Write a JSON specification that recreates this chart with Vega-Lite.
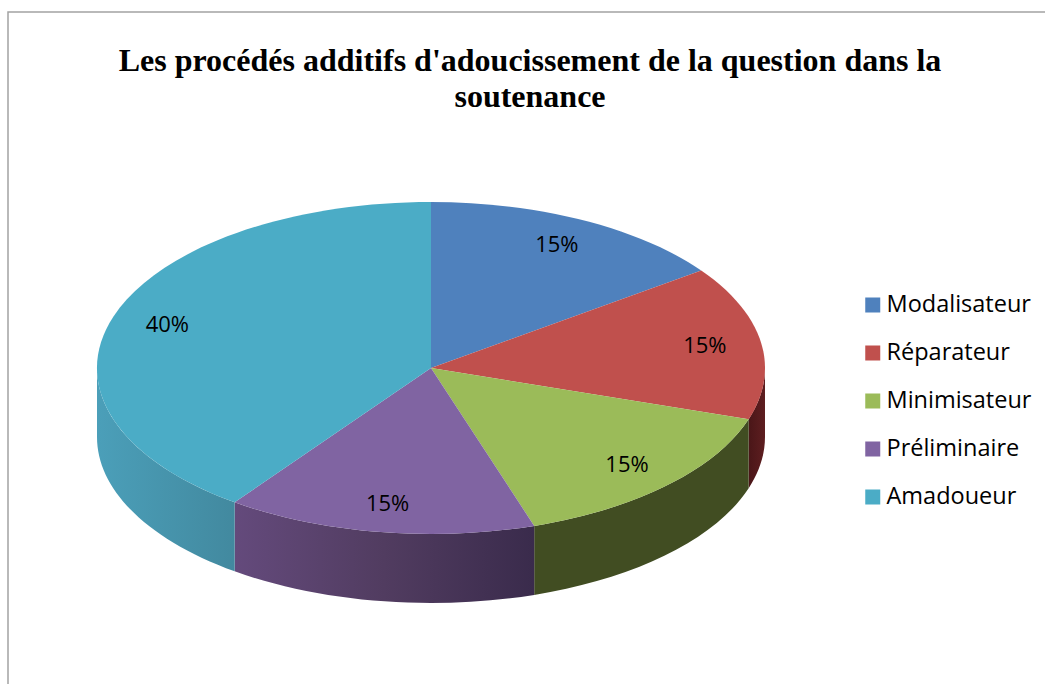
{
  "$schema": "https://vega.github.io/schema/vega-lite/v6.json",
  "autosize": {"type": "none"},
  "padding": {"left": 8, "top": 12, "right": 0, "bottom": 0},
  "width": 1060,
  "height": 700,
  "background": "white",
  "title": {
    "text": ["Les procédés additifs d'adoucissement de la question dans la", "soutenance"],
    "font": "Liberation Serif", "fontSize": 32, "fontWeight": "bold", "color": "black",
    "lineHeight": 36, "anchor": "middle", "frame": "group", "dx": -8, "offset": -127, "baseline": "alphabetic"
  },
  "config": {"view": {"stroke": "#a3a3a3", "strokeWidth": 1.5}},
  "data": {"values": [
    {"procede": "Modalisateur", "ordre": 1, "part": 15},
    {"procede": "Réparateur", "ordre": 2, "part": 15},
    {"procede": "Minimisateur", "ordre": 3, "part": 15},
    {"procede": "Préliminaire", "ordre": 4, "part": 15},
    {"procede": "Amadoueur", "ordre": 5, "part": 40}
  ]},
  "transform": [
    {"stack": "part", "groupby": [], "sort": [{"field": "ordre"}], "as": ["p0", "p1"], "offset": "zero"},
    {"calculate": "datum.p0/100*2*PI", "as": "a"},
    {"calculate": "datum.p1/100*2*PI", "as": "b"},
    {"calculate": "(datum.a+datum.b)/2", "as": "mid"},
    {"calculate": "0.497", "as": "k"},
    {"calculate": "0.2066", "as": "d"},
    {"calculate": "0", "as": "cx"},
    {"calculate": "0", "as": "cy"},
    {"calculate": "round(sin(datum.a)*10000)/10000", "as": "ax"},
    {"calculate": "round(-datum.k*cos(datum.a)*10000)/10000", "as": "ay"},
    {"calculate": "round(sin(datum.b)*10000)/10000", "as": "bx"},
    {"calculate": "round(-datum.k*cos(datum.b)*10000)/10000", "as": "by"},
    {"calculate": "'M0,0L'+datum.ax+','+datum.ay+'A1,'+datum.k+' 0 '+((datum.b-datum.a)>PI?1:0)+' 1 '+datum.bx+','+datum.by+'Z'", "as": "wedge"},
    {"calculate": "max(datum.a,PI/2)", "as": "fa"},
    {"calculate": "min(datum.b,3*PI/2)", "as": "fb"},
    {"calculate": "round(sin(datum.fa)*10000)/10000", "as": "fax"},
    {"calculate": "round(-datum.k*cos(datum.fa)*10000)/10000", "as": "fay"},
    {"calculate": "round(sin(datum.fb)*10000)/10000", "as": "fbx"},
    {"calculate": "round(-datum.k*cos(datum.fb)*10000)/10000", "as": "fby"},
    {"calculate": "'M'+datum.fax+','+datum.fay+'A1,'+datum.k+' 0 0 1 '+datum.fbx+','+datum.fby+'L'+datum.fbx+','+(datum.fby+datum.d)+'A1,'+datum.k+' 0 0 0 '+datum.fax+','+(datum.fay+datum.d)+'Z'", "as": "wall"},
    {"calculate": "datum.part+'%'", "as": "label"},
    {"calculate": "0.83*sin(datum.mid)", "as": "lx"},
    {"calculate": "0.83*cos(datum.mid)", "as": "ly"}
  ],
  "encoding": {
    "x": {"field": "cx", "type": "quantitative", "axis": null, "scale": {"domain": [-1.26647, 1.90719], "nice": false, "zero": false}},
    "y": {"field": "cy", "type": "quantitative", "axis": null, "scale": {"domain": [-2.07229, 2.14458], "nice": false, "zero": false}}
  },
  "layer": [
    {
      "transform": [{"filter": "datum.procede === 'Réparateur'"}],
      "mark": {"type": "point", "filled": true, "size": 446224, "opacity": 1, "strokeWidth": 0,
        "fill": {"gradient": "linear", "x1": 0, "x2": 1, "y1": 0, "y2": 0, "stops": [{"offset": 0, "color": "#4a1618"}, {"offset": 1, "color": "#5e1e20"}]}},
      "encoding": {"shape": {"field": "wall", "type": "nominal", "scale": null, "legend": null}}
    },
    {
      "transform": [{"filter": "datum.procede === 'Minimisateur'"}],
      "mark": {"type": "point", "filled": true, "size": 446224, "opacity": 1, "strokeWidth": 0, "fill": "#414d22"},
      "encoding": {"shape": {"field": "wall", "type": "nominal", "scale": null, "legend": null}}
    },
    {
      "transform": [{"filter": "datum.procede === 'Préliminaire'"}],
      "mark": {"type": "point", "filled": true, "size": 446224, "opacity": 1, "strokeWidth": 0,
        "fill": {"gradient": "linear", "x1": 0, "x2": 1, "y1": 0, "y2": 0, "stops": [{"offset": 0, "color": "#644a7c"}, {"offset": 0.5, "color": "#513c60"}, {"offset": 1, "color": "#3a2b4c"}]}},
      "encoding": {"shape": {"field": "wall", "type": "nominal", "scale": null, "legend": null}}
    },
    {
      "transform": [{"filter": "datum.procede === 'Amadoueur'"}],
      "mark": {"type": "point", "filled": true, "size": 446224, "opacity": 1, "strokeWidth": 0,
        "fill": {"gradient": "linear", "x1": 0, "x2": 1, "y1": 0, "y2": 0, "stops": [{"offset": 0, "color": "#4b9fb9"}, {"offset": 1, "color": "#42899f"}]}},
      "encoding": {"shape": {"field": "wall", "type": "nominal", "scale": null, "legend": null}}
    },
    {
      "mark": {"type": "point", "filled": true, "size": 446224, "opacity": 1, "strokeWidth": 0},
      "encoding": {
        "shape": {"field": "wedge", "type": "nominal", "scale": null, "legend": null},
        "color": {
          "field": "procede", "type": "nominal",
          "scale": {"domain": ["Modalisateur", "Réparateur", "Minimisateur", "Préliminaire", "Amadoueur"], "range": ["#4f81bd", "#c0504d", "#9bbb59", "#8064a2", "#4bacc6"]},
          "legend": {"title": null, "orient": "none", "legendX": 853, "legendY": 280, "symbolType": "square", "symbolSize": 225, "symbolOpacity": 1, "symbolStrokeWidth": 0, "labelFont": "Open Sans", "labelFontSize": 23.5, "labelColor": "black", "labelLimit": 300, "labelOffset": 2, "rowPadding": 22, "clipHeight": 26}
        }
      }
    },
    {
      "mark": {"type": "text", "font": "Open Sans", "fontSize": 22, "color": "black", "align": "center", "baseline": "middle"},
      "encoding": {
        "x": {"field": "lx", "type": "quantitative"},
        "y": {"field": "ly", "type": "quantitative"},
        "text": {"field": "label", "type": "nominal"}
      }
    }
  ]
}
